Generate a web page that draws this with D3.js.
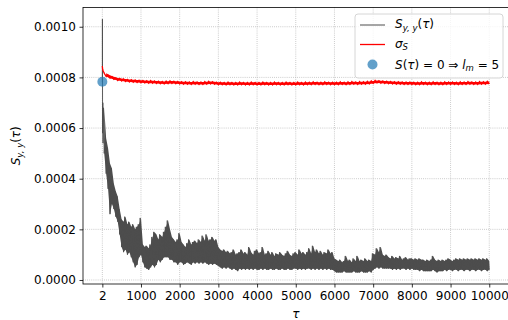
<!DOCTYPE html>
<html><head><meta charset="utf-8">
<script src="https://cdn.jsdelivr.net/npm/d3@7"></script>
<style>
html,body{margin:0;padding:0;background:#fff;}
text{font-family:"DejaVu Sans",sans-serif;}
</style></head>
<body><svg id="chart" width="508" height="320"></svg>
<script>
// ---------- data ----------
const xTicks = [2, 1000, 2000, 3000, 4000, 5000, 6000, 7000, 8000, 9000, 10000];
const yTicks = [0, 0.0002, 0.0004, 0.0006, 0.0008, 0.0010];

// S_{y,y}(tau): first few lags
const grayHeadTau = [2, 4, 8, 14, 20];
const grayHeadVal = [7.8e-4, 10.3e-4, 5.8e-4, 7.0e-4, 5.4e-4];
// band envelope of the noisy S_{y,y}(tau), at tau = 50, 100, ..., 10000
const grayBandTau = d3.range(50, 10001, 50);
const grayHi = [
 6.8e-4,5.6e-4,5.2e-4,4.6e-4,4.4e-4,3.8e-4,3.5e-4,3.3e-4,2.8e-4,2.4e-4,
 2.3e-4,2.5e-4,2.2e-4,2.3e-4,2.1e-4,2.2e-4,2.0e-4,2.1e-4,2.2e-4,2.45e-4,
 1.4e-4,1.3e-4,1.35e-4,1.25e-4,1.4e-4,1.7e-4,1.9e-4,1.8e-4,1.6e-4,1.8e-4,
 1.7e-4,1.9e-4,2.1e-4,2.35e-4,2.0e-4,1.7e-4,1.6e-4,1.5e-4,1.6e-4,1.85e-4,
 1.5e-4,1.4e-4,1.3e-4,1.45e-4,1.6e-4,1.4e-4,1.5e-4,1.55e-4,1.45e-4,1.6e-4,
 1.5e-4,1.75e-4,1.55e-4,1.8e-4,1.55e-4,1.6e-4,1.7e-4,1.55e-4,1.6e-4,1.3e-4,
 1.2e-4,1.15e-4,1.2e-4,1.1e-4,1.15e-4,1.05e-4,1.1e-4,1.2e-4,1.0e-4,1.05e-4,
 1.1e-4,1.2e-4,1.05e-4,1.1e-4,1.0e-4,1.3e-4,1.1e-4,1.0e-4,1.15e-4,1.2e-4,
 1.05e-4,1.1e-4,1.3e-4,1.0e-4,1.05e-4,1.15e-4,1.0e-4,1.1e-4,0.95e-4,1.05e-4,
 1.0e-4,1.1e-4,1.0e-4,0.95e-4,1.05e-4,1.15e-4,1.0e-4,0.95e-4,1.05e-4,1.1e-4,
 1.0e-4,1.2e-4,1.05e-4,1.1e-4,1.0e-4,1.1e-4,1.25e-4,1.05e-4,1.35e-4,1.1e-4,
 1.2e-4,1.05e-4,1.15e-4,1.0e-4,1.1e-4,1.05e-4,1.2e-4,1.05e-4,1.1e-4,0.85e-4,
 0.8e-4,0.75e-4,0.8e-4,0.7e-4,0.75e-4,0.95e-4,0.75e-4,0.8e-4,0.7e-4,0.85e-4,
 0.75e-4,0.95e-4,0.75e-4,0.8e-4,0.75e-4,0.85e-4,0.75e-4,0.8e-4,0.75e-4,1.05e-4,
 1.0e-4,1.25e-4,1.1e-4,1.3e-4,1.0e-4,0.95e-4,1.0e-4,0.9e-4,0.85e-4,0.95e-4,
 0.85e-4,0.9e-4,0.85e-4,0.95e-4,0.8e-4,0.85e-4,0.9e-4,0.8e-4,0.85e-4,0.85e-4,
 0.8e-4,0.85e-4,0.8e-4,0.85e-4,0.8e-4,0.8e-4,0.75e-4,0.8e-4,0.75e-4,0.8e-4,
 0.95e-4,0.8e-4,0.75e-4,0.8e-4,0.75e-4,0.8e-4,0.75e-4,0.8e-4,0.85e-4,0.8e-4,
 0.75e-4,0.8e-4,0.85e-4,0.8e-4,0.85e-4,0.8e-4,0.85e-4,0.8e-4,0.85e-4,0.8e-4,
 0.85e-4,0.8e-4,0.85e-4,0.8e-4,0.85e-4,0.8e-4,0.85e-4,0.8e-4,0.85e-4,0.75e-4
];
const grayLo = [
 5.0e-4,4.2e-4,3.6e-4,2.6e-4,3.0e-4,2.8e-4,2.5e-4,2.3e-4,1.8e-4,1.3e-4,
 1.1e-4,1.2e-4,1.0e-4,1.1e-4,0.9e-4,0.7e-4,0.5e-4,0.6e-4,0.9e-4,1.0e-4,
 0.7e-4,0.5e-4,0.45e-4,0.4e-4,0.5e-4,0.6e-4,0.5e-4,0.6e-4,0.8e-4,0.7e-4,
 0.8e-4,0.9e-4,0.9e-4,0.9e-4,0.8e-4,0.8e-4,0.7e-4,0.7e-4,0.6e-4,0.7e-4,
 0.7e-4,0.6e-4,0.65e-4,0.7e-4,0.65e-4,0.6e-4,0.7e-4,0.65e-4,0.7e-4,0.65e-4,
 0.7e-4,0.65e-4,0.7e-4,0.65e-4,0.6e-4,0.65e-4,0.6e-4,0.65e-4,0.6e-4,0.55e-4,
 0.5e-4,0.45e-4,0.5e-4,0.45e-4,0.5e-4,0.45e-4,0.4e-4,0.45e-4,0.4e-4,0.35e-4,
 0.45e-4,0.4e-4,0.45e-4,0.4e-4,0.45e-4,0.4e-4,0.45e-4,0.4e-4,0.45e-4,0.4e-4,
 0.4e-4,0.45e-4,0.4e-4,0.45e-4,0.4e-4,0.4e-4,0.45e-4,0.4e-4,0.4e-4,0.45e-4,
 0.4e-4,0.4e-4,0.45e-4,0.4e-4,0.4e-4,0.45e-4,0.4e-4,0.4e-4,0.45e-4,0.45e-4,
 0.4e-4,0.45e-4,0.4e-4,0.45e-4,0.4e-4,0.45e-4,0.45e-4,0.4e-4,0.45e-4,0.4e-4,
 0.45e-4,0.4e-4,0.45e-4,0.4e-4,0.45e-4,0.4e-4,0.45e-4,0.4e-4,0.4e-4,0.35e-4,
 0.3e-4,0.3e-4,0.3e-4,0.3e-4,0.35e-4,0.3e-4,0.3e-4,0.3e-4,0.3e-4,0.35e-4,
 0.3e-4,0.3e-4,0.3e-4,0.35e-4,0.3e-4,0.3e-4,0.3e-4,0.35e-4,0.3e-4,0.4e-4,
 0.45e-4,0.5e-4,0.45e-4,0.5e-4,0.45e-4,0.45e-4,0.45e-4,0.45e-4,0.45e-4,0.4e-4,
 0.45e-4,0.4e-4,0.45e-4,0.4e-4,0.45e-4,0.45e-4,0.4e-4,0.45e-4,0.4e-4,0.45e-4,
 0.4e-4,0.4e-4,0.4e-4,0.35e-4,0.4e-4,0.35e-4,0.35e-4,0.35e-4,0.35e-4,0.35e-4,
 0.4e-4,0.35e-4,0.3e-4,0.35e-4,0.35e-4,0.35e-4,0.4e-4,0.35e-4,0.4e-4,0.4e-4,
 0.35e-4,0.4e-4,0.4e-4,0.35e-4,0.4e-4,0.4e-4,0.35e-4,0.4e-4,0.4e-4,0.35e-4,
 0.4e-4,0.4e-4,0.35e-4,0.4e-4,0.4e-4,0.35e-4,0.4e-4,0.4e-4,0.35e-4,0.4e-4
];

// sigma_S
const redHeadTau = [2, 10, 25, 50];
const redHeadVal = [8.45e-4, 8.32e-4, 8.24e-4, 8.18e-4];
const redBandTau = d3.range(100, 10001, 100);
const redHi = [
 8.16e-4,8.08e-4,8.03e-4,7.98e-4,7.96e-4,7.94e-4,7.92e-4,7.91e-4,7.90e-4,7.89e-4,
 7.88e-4,7.87e-4,7.87e-4,7.86e-4,7.85e-4,7.84e-4,7.85e-4,7.86e-4,7.85e-4,7.84e-4,
 7.83e-4,7.83e-4,7.82e-4,7.83e-4,7.82e-4,7.82e-4,7.83e-4,7.84e-4,7.83e-4,7.81e-4,
 7.81e-4,7.80e-4,7.81e-4,7.80e-4,7.80e-4,7.81e-4,7.80e-4,7.80e-4,7.81e-4,7.80e-4,
 7.80e-4,7.81e-4,7.80e-4,7.80e-4,7.81e-4,7.80e-4,7.80e-4,7.81e-4,7.80e-4,7.80e-4,
 7.81e-4,7.80e-4,7.81e-4,7.81e-4,7.82e-4,7.81e-4,7.81e-4,7.82e-4,7.81e-4,7.81e-4,
 7.81e-4,7.82e-4,7.81e-4,7.82e-4,7.83e-4,7.82e-4,7.83e-4,7.83e-4,7.84e-4,7.86e-4,
 7.88e-4,7.87e-4,7.86e-4,7.85e-4,7.84e-4,7.83e-4,7.83e-4,7.82e-4,7.82e-4,7.82e-4,
 7.81e-4,7.81e-4,7.82e-4,7.81e-4,7.81e-4,7.82e-4,7.81e-4,7.81e-4,7.82e-4,7.82e-4,
 7.82e-4,7.81e-4,7.82e-4,7.82e-4,7.83e-4,7.82e-4,7.82e-4,7.83e-4,7.83e-4,7.84e-4
];
const redLo = [
 8.04e-4,7.97e-4,7.92e-4,7.88e-4,7.86e-4,7.84e-4,7.82e-4,7.81e-4,7.80e-4,7.79e-4,
 7.78e-4,7.77e-4,7.77e-4,7.76e-4,7.75e-4,7.74e-4,7.75e-4,7.76e-4,7.75e-4,7.74e-4,
 7.73e-4,7.73e-4,7.72e-4,7.73e-4,7.72e-4,7.72e-4,7.73e-4,7.74e-4,7.73e-4,7.71e-4,
 7.71e-4,7.70e-4,7.71e-4,7.70e-4,7.70e-4,7.71e-4,7.70e-4,7.70e-4,7.71e-4,7.70e-4,
 7.70e-4,7.71e-4,7.70e-4,7.70e-4,7.71e-4,7.70e-4,7.70e-4,7.71e-4,7.70e-4,7.70e-4,
 7.71e-4,7.70e-4,7.71e-4,7.71e-4,7.72e-4,7.71e-4,7.71e-4,7.72e-4,7.71e-4,7.71e-4,
 7.71e-4,7.72e-4,7.71e-4,7.72e-4,7.73e-4,7.72e-4,7.73e-4,7.73e-4,7.74e-4,7.76e-4,
 7.78e-4,7.77e-4,7.76e-4,7.75e-4,7.74e-4,7.73e-4,7.73e-4,7.72e-4,7.72e-4,7.72e-4,
 7.71e-4,7.71e-4,7.72e-4,7.71e-4,7.71e-4,7.72e-4,7.71e-4,7.71e-4,7.72e-4,7.72e-4,
 7.72e-4,7.71e-4,7.72e-4,7.72e-4,7.73e-4,7.72e-4,7.72e-4,7.73e-4,7.73e-4,7.74e-4
];

// marker S(tau)=0 => l_m = 5
const markerTau = [2];
const markerVal = [7.83e-4];

// ---------- layout ----------
const svg = d3.select("#chart");
const L = 83, R = 508.6, T = 7.5, B = 284;
const x = d3.scaleLinear().domain([-498, 10500]).range([L, R]);
const y = d3.scaleLinear().domain([-0.0000158, 0.001076]).range([B, T]);

svg.append("defs").append("clipPath").attr("id", "clip")
  .append("rect").attr("x", L).attr("y", T).attr("width", R - L).attr("height", B - T);

// grid
const grid = svg.append("g").attr("stroke", "#b0b0b0").attr("stroke-width", 0.8)
  .attr("stroke-dasharray", "0.8,1.3");
grid.selectAll("line.gx").data(xTicks).join("line")
  .attr("x1", d => x(d)).attr("x2", d => x(d)).attr("y1", T).attr("y2", B);
grid.selectAll("line.gy").data(yTicks).join("line")
  .attr("x1", L).attr("x2", R).attr("y1", d => y(d)).attr("y2", d => y(d));

// series vertices (noisy trace: alternating between upper and lower envelope)
const grayPts = grayHeadTau.map((t, i) => [t, grayHeadVal[i]]);
grayBandTau.forEach((t, i) => { grayPts.push([t - 20, grayHi[i]]); grayPts.push([t, grayLo[i]]); });
const redPts = redHeadTau.map((t, i) => [t, redHeadVal[i]]);
redBandTau.forEach((t, i) => { redPts.push([t - 50, redHi[i]]); redPts.push([t, redLo[i]]); });

const line = d3.line().x(d => x(d[0])).y(d => y(d[1]));
const area = (hi, lo) => d3.area().x(d => x(d)).y0((d, i) => y(lo[i])).y1((d, i) => y(hi[i]));
const plot = svg.append("g").attr("clip-path", "url(#clip)");

// gray: dense noise band
plot.append("path").attr("d", area(grayHi, grayLo)(grayBandTau))
  .attr("fill", "#4d4d4d").attr("stroke", "none");
plot.append("path").attr("d", line(grayPts)).attr("fill", "none")
  .attr("stroke", "#4d4d4d").attr("stroke-width", 0.9).attr("stroke-linejoin", "miter");
// red: dense noise band
plot.append("path").attr("d", area(redHi, redLo)(redBandTau))
  .attr("fill", "#ff0000").attr("stroke", "none");
plot.append("path").attr("d", line(redPts)).attr("fill", "none")
  .attr("stroke", "#ff0000").attr("stroke-width", 1.3);
plot.selectAll("circle").data(markerTau).join("circle")
  .attr("cx", (d) => x(d)).attr("cy", (d, i) => y(markerVal[i])).attr("r", 5)
  .attr("fill", "#1f77b4").attr("fill-opacity", 0.7);

// axes
const xAxis = svg.append("g").attr("transform", `translate(0,${B})`)
  .call(d3.axisBottom(x).tickValues(xTicks).tickFormat(d3.format("d")).tickSize(3.5).tickPadding(3.5));
const yAxis = svg.append("g").attr("transform", `translate(${L},0)`)
  .call(d3.axisLeft(y).tickValues(yTicks).tickFormat(d3.format(".4f")).tickSize(3.5).tickPadding(3.5));
[xAxis, yAxis].forEach(a => {
  a.select(".domain").remove();
  a.selectAll("text").attr("font-family", "DejaVu Sans").attr("font-size", 12).attr("fill", "#000");
  a.selectAll("line").attr("stroke", "#000").attr("stroke-width", 0.8);
});
// frame
svg.append("rect").attr("x", L).attr("y", T).attr("width", R - L).attr("height", B - T)
  .attr("fill", "none").attr("stroke", "#000").attr("stroke-width", 0.8);

// axis labels
svg.append("text").attr("x", (L + R) / 2).attr("y", 318).attr("text-anchor", "middle")
  .attr("font-size", 12).attr("font-style", "italic").text("τ");
const yl = svg.append("text").attr("transform", `translate(20,${(T + B) / 2}) rotate(-90)`)
  .attr("text-anchor", "middle").attr("font-size", 12);
yl.append("tspan").attr("font-style", "italic").text("S");
yl.append("tspan").attr("font-style", "italic").attr("font-size", 8.5).attr("dy", 2.5).text("y, y");
yl.append("tspan").attr("dy", -2.5).text("(");
yl.append("tspan").attr("font-style", "italic").text("τ");
yl.append("tspan").text(")");

// legend
const lg = svg.append("g");
lg.append("rect").attr("x", 355).attr("y", 14).attr("width", 148).attr("height", 64).attr("rx", 3)
  .attr("fill", "#fff").attr("fill-opacity", 0.8).attr("stroke", "#cccccc").attr("stroke-width", 0.8);
lg.append("line").attr("x1", 360).attr("x2", 385).attr("y1", 25).attr("y2", 25)
  .attr("stroke", "#4d4d4d").attr("stroke-width", 1);
lg.append("line").attr("x1", 360).attr("x2", 385).attr("y1", 44.5).attr("y2", 44.5)
  .attr("stroke", "#ff0000").attr("stroke-width", 1.3);
lg.append("circle").attr("cx", 372.5).attr("cy", 64.5).attr("r", 5)
  .attr("fill", "#1f77b4").attr("fill-opacity", 0.7);

const t1 = lg.append("text").attr("x", 395).attr("y", 28).attr("font-size", 12);
t1.append("tspan").attr("font-style", "italic").text("S");
t1.append("tspan").attr("font-style", "italic").attr("font-size", 8.5).attr("dy", 2.5).text("y, y");
t1.append("tspan").attr("dy", -2.5).text("(");
t1.append("tspan").attr("font-style", "italic").text("τ");
t1.append("tspan").text(")");

const t2 = lg.append("text").attr("x", 395).attr("y", 47.5).attr("font-size", 12);
t2.append("tspan").attr("font-style", "italic").text("σ");
t2.append("tspan").attr("font-style", "italic").attr("font-size", 8.5).attr("dy", 2.5).text("S");

const t3 = lg.append("text").attr("x", 395).attr("y", 68.5).attr("font-size", 12);
t3.append("tspan").attr("font-style", "italic").text("S");
t3.append("tspan").text("(");
t3.append("tspan").attr("font-style", "italic").text("τ");
t3.append("tspan").text(") = 0 ⇒ ");
t3.append("tspan").attr("font-style", "italic").text("l");
t3.append("tspan").attr("font-style", "italic").attr("font-size", 8.5).attr("dy", 2.5).text("m");
t3.append("tspan").attr("dy", -2.5).text(" = 5");
</script></body></html>
